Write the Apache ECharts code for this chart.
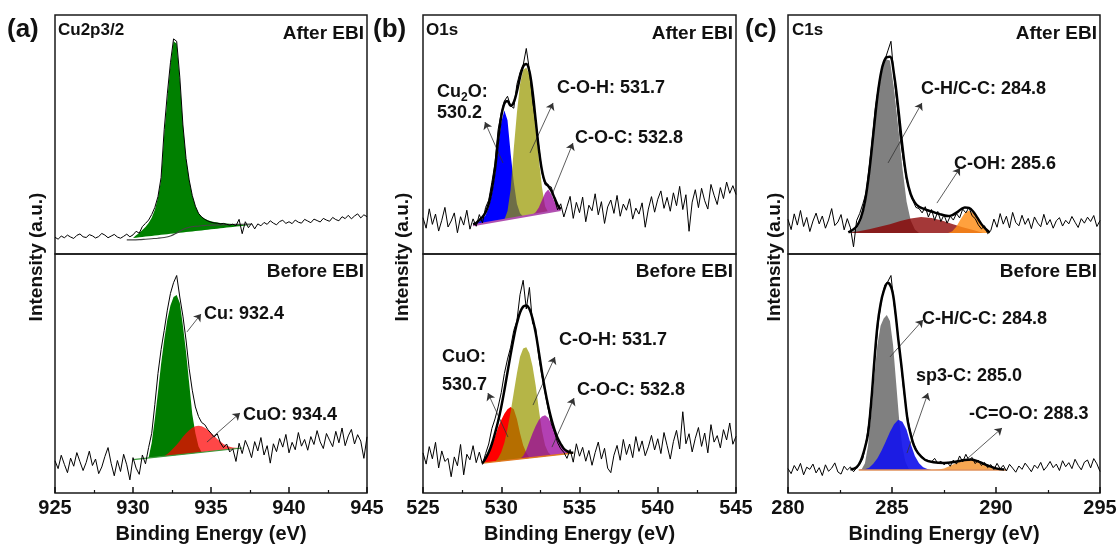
<!DOCTYPE html>
<html><head><meta charset="utf-8">
<script src="https://cdn.jsdelivr.net/npm/echarts/dist/echarts.min.js"></script>
<style>html,body{margin:0;padding:0;background:#fff}#c{width:1120px;height:544px}</style>
</head><body><div id="c"></div><script>
const FONT = "'Liberation Sans', Arial, sans-serif";

// ---------- x ranges / ticks ----------
const rangeA = [925, 945], rangeB = [525, 545], rangeC = [280, 295];
const tickInterval = 5;
const stepAB = 0.2, stepC = 0.15;

// ---------- raw spectra (start at range min) ----------
const cuAfterRaw = [7.0,6.2,7.5,6.8,7.9,7.1,6.5,7.8,8.4,7.2,6.9,8.1,7.6,6.7,7.3,8.6,7.9,6.8,7.5,8.2,7.1,6.6,7.4,8.3,7.2,
 8.0,9.5,8.7,11.5,12.8,14.2,16.5,19.5,24,
 32,52,67,80,90,89,74,54,40,31,24.5,20,17,15.5,14.5,13.8,13.3,
 13.0,12.9,12.6,12.8,12.4,12.1,12.5,11.8,14.5,8.5,13.5,11.0,12.8,10.5,12.6,
 11.8,13.2,12.4,13.9,12.9,12.2,13.6,14.1,12.8,13.5,12.7,14.2,13.3,12.9,14.5,13.8,13.1,14.6,14.0,13.4,14.9,14.2,13.7,15.3,14.4,13.9,15.6,14.8,16.2,14.7,15.9,16.8,15.1,16.4,15.6];
const cuBeforeRaw = [13.5,10.2,15.8,12.0,8.5,14.6,11.2,16.9,13.1,9.4,12.8,17.5,11.5,14.2,8.1,10.9,15.3,19.0,12.4,7.2,13.6,9.0,16.2,11.8,5.5,14.8,10.4,7.8,15.9,12.2,
 19,25,37,50,60,68,76.5,83.5,88,91,82,74,64,52,43,36,32,29.5,28.6,26.5,25,23.4,24.8,21,19,20.5,17.2,
 18.5,13.2,20.8,16.5,22.0,18.9,14.8,21.5,17.6,23.2,15.9,19.8,12.5,20.6,17.3,22.8,19.2,24.5,16.8,21.2,18.1,25.3,19.6,22.4,17.9,23.6,20.3,26.1,21.4,18.6,24.9,22.1,19.4,25.8,21.0,27.2,19.8,23.9,26.6,20.5,24.4,21.7,14.5,23.5];
const oAfterRaw = [15.2,10.8,18.9,12.4,16.7,9.6,14.1,19.5,11.3,13.8,17.2,8.9,15.6,12.1,18.3,10.4,14.7,11.6,
 16.5,13.0,19.5,22.5,30,38,52,59,64,66,62,61,71,76,79,86,77,64,55,45,34,29,28.5,28,23,18.5,21.0,15.5,
 19.8,24.1,14.9,21.6,17.3,23.8,13.5,20.4,18.1,25.2,16.4,21.9,12.8,19.7,22.6,17.0,24.5,15.8,20.9,18.3,23.1,14.6,19.2,16.7,21.4,11.2,18.8,24.0,17.5,22.9,26.4,19.1,23.7,17.9,25.6,20.2,28.3,18.6,24.8,9.5,21.7,26.9,19.4,27.5,22.3,18.8,29.1,24.6,20.7,27.8,23.2,30.1,25.4,28.6,24.9];
const oBeforeRaw = [16.8,12.1,19.4,14.3,21.2,10.5,17.6,13.2,14.5,6.8,15.1,11.4,20.3,7.6,16.2,13.9,19.8,12.7,17.1,
 12.0,16.5,20.5,27,31,36,42,50,56,61,68,72,83,89,77,86,71,69,57,49,42,35,29,25.5,21,18.5,17,14.5,
 18.2,12.9,20.6,15.4,19.1,13.3,17.8,11.6,16.9,21.3,14.2,18.7,10.4,8.5,15.8,19.9,13.7,22.4,16.1,20.5,14.8,23.6,17.4,21.8,15.6,19.3,24.1,18.0,22.7,16.5,25.3,19.8,14.2,21.5,26.2,18.4,34.0,20.6,24.8,17.2,22.9,27.4,19.5,25.1,16.8,28.6,21.3,24.0,18.9,26.5,22.2,29.3,20.4,23.7];
const cAfterRaw = [14.5,10.2,16.8,12.1,18.2,11.5,15.3,9.4,13.8,17.1,12.6,15.9,10.8,14.2,19.0,11.9,13.4,16.5,10.1,14.8,11.0,
 3.0,14,17,21,25.5,36,48,61,70,77,81,85,89,74,62,48,39,31,26,22.5,19.5,19.0,
 17.2,19.8,15.5,18.6,14.1,17.8,13.6,16.4,12.9,15.8,14.2,16.9,15.1,18.8,17.2,19.5,16.0,14.8,12.2,10.5,11.8,8.5,9.8,
 14.6,11.2,16.9,12.5,15.8,10.9,17.4,13.2,11.8,16.2,12.4,14.9,10.6,15.5,13.0,11.4,16.6,12.2,14.4,10.8,13.9,15.2,11.7,14.1,12.6,15.7,13.3,11.1,14.8,12.9,15.4,13.6,16.1,11.5,14.0];
const cBeforeRaw = [10.2,8.1,11.5,9.3,12.4,7.6,10.8,9.9,12.1,8.4,10.6,7.3,11.8,9.1,10.4,12.6,8.8,7.9,11.2,9.6,10.9,8.9,10.5,12.0,
 14.5,21,30,44,59,72,81,87,88.5,91,79,69,57,44,34,27,21.5,18.5,16,
 15.2,14.0,13.6,13.0,14.5,12.4,13.3,11.8,12.9,11.2,13.8,12.1,15.5,13.0,16.2,13.6,14.9,12.3,13.7,11.5,12.8,10.6,11.9,9.8,12.4,10.1,11.6,
 9.2,12.0,10.4,8.7,11.3,9.9,12.5,10.8,8.9,11.7,10.3,12.8,9.5,11.1,13.2,10.6,12.1,9.4,13.5,11.0,12.7,10.2,14.1,11.6,9.7,12.9,13.8,10.5,14.4,12.2,9.0];

// ---------- backgrounds (two end points) ----------
const cuAfterBg = [[930.0, 6.7], [937.6, 12.2]];
const cuBeforeBg = [[930.0, 14.0], [937.0, 18.83]];
const oAfterBg = [[528.2, 12.0], [533.8, 18.44]];
const oBeforeBg = [[528.8, 12.5], [534.6, 16.7]];
const cAfterBg = [[282.9, 8.8], [289.7, 8.8]];
const cBeforeBg = [[283.4, 9.6], [290.5, 9.6]];

// Shirley background line of Cu2p after EBI  [x, y]
const cuAfterShirley = [[929.6,5.9],[930.0,5.9],[930.4,6.0],[930.8,6.2],[931.2,6.4],[931.6,6.6],[932.0,6.9],[932.4,7.5],[932.8,8.8],[933.2,10.3],[933.6,11.2],[934.0,11.6],[934.4,11.8],[934.8,12.0],[935.2,12.1],[935.6,12.2],[936.0,12.3],[936.6,12.4],[937.6,12.5]];

// ---------- fitted components (absolute top edge), uniform steps ----------
const cuAfterCu = {x0:930.0, dx:0.2, y:[6.7,7.8,8.8,10.0,11.3,13.0,15.2,18.5,23.5,31,50,65,79,89,88,73,54,40,31,24.5,20,17.2,15.6,14.7,14.1,13.7,13.4,13.2,13.0,12.9,12.8,12.7,12.6,12.5,12.4,12.3,12.25,12.2,12.2]};
const cuBeforeCu = {x0:930.8, dx:0.2, y:[14.55,14.7,21,31,42,54,64,72.5,78.5,82,82.8,79.5,70,59,46,33,25,19.5,17.0]};
const cuBeforeCuO = {x0:932.0, dx:0.2, y:[15.4,16.3,17.5,18.8,20.2,21.8,23.5,25.0,26.3,27.3,27.9,28.1,27.9,27.3,26.4,25.2,23.9,22.6,21.5,20.5,19.8,19.3,19.0,18.9,18.8,18.8]};

const oAfterCu2O = {x0:528.2, dx:0.2, y:[12.0,12.6,13.6,14.8,16.2,19.5,25,33,45,55,60,56,42,30,21,17.0,15.7]};
const oAfterCOH = {x0:530.2, dx:0.2, y:[14.3,18,27,44,59,71,77,78,75,66,53,40,28,20,17.5]};
const oAfterCOC = {x0:532.0, dx:0.2, y:[16.4,17.5,19.5,22.5,25.5,27,25,22,19.5,18.44]};
const oAfterEnv = {x0:528.2, dx:0.2, y:[12.5,13.0,14.2,15.5,17.5,21,27,35.5,47.5,57.5,63,64,62,63.5,68,74,78.5,79.5,76.5,68,56,44,35,30,28.5,26.5,23.5,20.5,18.8]};

const oBeforeCuO = {x0:528.8, dx:0.2, y:[12.5,14.2,16.3,19.5,23.5,27.5,30.5,33.2,35.0,36.0,35.0,31.0,25.0,20.0,16.8,14.7]};
const oBeforeCOH = {x0:529.6, dx:0.2, y:[13.1,14.5,17,21,27,34,42,50,57,60.5,61,58.5,53,45,35,26,20,17,15.7]};
const oBeforeCOC = {x0:531.2, dx:0.2, y:[14.2,15.5,18,21.5,25,28,30.5,32,32.5,31.5,29,26,23,20.5,18.5,17.3,16.8,16.7]};
const oBeforeEnv = {x0:528.8, dx:0.2, y:[12.5,14.5,17,20.5,25,30,36,43,50.5,58,65,71,75.5,78,78.5,77,73,67,59,50.5,43,36.5,31,26.5,23,20.5,18.5,17.5,17,16.8]};

const cAfterCC = {x0:282.9, dx:0.2, y:[8.8,9.3,10.5,13.5,20,33,49,65,76,81.5,81,69,53,36,22,14,10.3,8.8]};
const cAfterCOH = {x0:282.9, dx:0.5, y:[8.8,9.5,10.4,11.4,12.5,13.8,14.9,15.5,15.1,14.0,12.6,11.2,10.0,8.8]};
const cAfterCOO = {x0:287.7, dx:0.2, y:[8.8,9.5,11.5,14.5,17.2,18.2,17.0,14.5,12.0,10.0,8.8]};
const cAfterEnv = {x0:282.9, dx:0.2, y:[9,10,11.5,15,22,34,50,66,77,82,82.5,75,61,45,32,25,21.5,19.8,19,18.3,17.8,17.2,16.7,16.2,15.9,16.3,17.3,18.6,19.5,19.3,17.8,15.2,12.5,10.5,9.0]};

const cBeforeCC = {x0:283.4, dx:0.15, y:[9.6,10.0,12.5,20,33,49,62,70,73,74.5,72,62,46,30,19,13,10.3,9.6]};
const cBeforeSp3 = {x0:283.5, dx:0.2, y:[9.6,9.9,10.6,12.2,14.5,17.8,21.5,25.5,28.8,30.7,29.8,26.5,20.5,15.5,12.5,10.8,10.0,9.6]};
const cBeforeCOO = {x0:287.0, dx:0.25, y:[9.6,9.8,10.3,11.2,12.2,13.2,14.0,14.2,13.8,12.8,11.6,10.6,10.0,9.7,9.6]};
const cBeforeEnv = [[283.0,9.8],[283.3,10.8],[283.5,13.5],[283.7,19],[283.85,25],[284.0,38],[284.15,55],[284.3,70],[284.45,79],[284.6,84.5],[284.8,88],[285.0,85],[285.15,76.5],[285.3,64.5],[285.45,53.5],[285.6,41.5],[285.75,30.5],[285.9,24.5],[286.05,20],[286.25,16.7],[286.6,13.8],[287.0,12.9],[287.5,12.6],[288.0,13.0],[288.5,13.8],[288.8,14.0],[289.2,13.0],[289.6,11.5],[290.0,10.3],[290.4,9.8]];

// ---------- annotation arrows (data coords: from -> to) ----------
const arrowsA1 = [[[933.46,67.4],[934.36,74.9]], [[934.74,21.3],[936.86,33.5]]];
const arrowsB0 = [[[530.11,38.1],[528.96,55.2]], [[531.84,42.3],[533.31,63.2]], [[533.24,24.7],[534.58,46.4]]];
const arrowsB1 = [[[530.43,23.4],[529.15,41.8]], [[532.03,36.8],[533.43,56.9]], [[533.24,19.2],[534.65,39.7]]];
const arrowsC0 = [[[284.81,38.1],[286.44,63.2]], [[287.16,21.3],[288.27,36.0]]];
const arrowsC1 = [[[284.9,56.9],[286.49,72.4]], [[285.72,16.7],[286.73,41.8]], [[288.65,14.6],[290.29,27.2]]];

// ---------- helpers ----------
function seq(x0, dx, ys){ return ys.map((y,i)=>[+(x0+i*dx).toFixed(3), y]); }
function bgAt(bg, x){ const a=bg[0], b=bg[1]; return a[1] + (b[1]-a[1])*(x-a[0])/(b[0]-a[0]); }

const series = [];
// filled component between its top edge and the straight background, drawn through the axes' scales
function comp(g, c, bg, color){
  const top = seq(c.x0, c.dx, c.y);
  const base = top.map(p => [p[0], bgAt(bg, p[0])]).reverse();
  const ring = top.concat(base);
  series.push({type:'custom', coordinateSystem:'cartesian2d', xAxisIndex:g, yAxisIndex:g, silent:true, z:2, clip:true,
    data:[0],
    renderItem: (params, api) => ({type:'polygon',
      shape:{points: ring.map(p => api.coord(p))},
      style:{fill:color, stroke:null}})});
}
function line(g, data, color, width, smooth, z){
  series.push({type:'line', xAxisIndex:g, yAxisIndex:g, symbol:'none', silent:true, z:z, smooth:smooth||false,
    lineStyle:{color:color, width:width}, data:data});
}
function raw(g, x0, dx, ys, arrows){
  const s = {type:'line', xAxisIndex:g, yAxisIndex:g, symbol:'none', silent:true, z:4,
    lineStyle:{color:'#000', width:1}, data: seq(x0, dx, ys)};
  if (arrows) s.markLine = {silent:true, symbol:['none','arrow'], symbolSize:7, label:{show:false},
    lineStyle:{color:'#333', width:0.8, type:'solid'}, animation:false,
    data: arrows.map(a => [{coord:a[0]}, {coord:a[1]}])};
  series.push(s);
}

// (a) Cu2p3/2
comp(0, cuAfterCu, cuAfterBg, 'rgba(0,128,0,1)');
line(0, cuAfterShirley, '#444', 1.1, 0.3, 3);
raw(0, rangeA[0], stepAB, cuAfterRaw);
comp(1, cuBeforeCu, cuBeforeBg, 'rgba(0,125,0,1)');
comp(1, cuBeforeCuO, cuBeforeBg, 'rgba(255,0,0,0.72)');
line(1, cuBeforeBg, '#3a9a3a', 1.2, false, 3);
raw(1, rangeA[0], stepAB, cuBeforeRaw, arrowsA1);
// (b) O1s
comp(2, oAfterCu2O, oAfterBg, 'rgba(0,0,255,1)');
comp(2, oAfterCOH, oAfterBg, 'rgba(153,153,0,0.72)');
comp(2, oAfterCOC, oAfterBg, 'rgba(153,0,153,0.75)');
line(2, oAfterBg, '#b050b0', 2, false, 3);
raw(2, rangeB[0], stepAB, oAfterRaw, arrowsB0);
line(2, seq(oAfterEnv.x0, oAfterEnv.dx, oAfterEnv.y), '#000', 2.5, 0.35, 5);
comp(3, oBeforeCuO, oBeforeBg, 'rgba(255,0,0,1)');
comp(3, oBeforeCOH, oBeforeBg, 'rgba(153,153,0,0.72)');
comp(3, oBeforeCOC, oBeforeBg, 'rgba(153,0,153,0.75)');
line(3, oBeforeBg, '#e07a20', 1.5, false, 3);
raw(3, rangeB[0], stepAB, oBeforeRaw, arrowsB1);
line(3, seq(oBeforeEnv.x0, oBeforeEnv.dx, oBeforeEnv.y), '#000', 2.5, 0.35, 5);
// (c) C1s
comp(4, cAfterCC, cAfterBg, 'rgba(128,128,128,1)');
comp(4, cAfterCOH, cAfterBg, 'rgba(139,0,0,0.78)');
comp(4, cAfterCOO, cAfterBg, 'rgba(255,140,20,0.82)');
raw(4, rangeC[0], stepC, cAfterRaw, arrowsC0);
line(4, seq(cAfterEnv.x0, cAfterEnv.dx, cAfterEnv.y), '#000', 2.5, 0.35, 5);
comp(5, cBeforeCC, cBeforeBg, 'rgba(128,128,128,1)');
comp(5, cBeforeSp3, cBeforeBg, 'rgba(20,20,235,0.92)');
comp(5, cBeforeCOO, cBeforeBg, 'rgba(245,150,50,0.85)');
line(5, cBeforeBg, '#e0905a', 1.5, false, 3);
raw(5, rangeC[0], stepC, cBeforeRaw, arrowsC1);
line(5, cBeforeEnv, '#000', 2.5, 0.35, 5);

// ---------- layout ----------
const cols = [{left:55, width:312, r:rangeA}, {left:423, width:313, r:rangeB}, {left:788, width:312, r:rangeC}];
const grids = [], xAxes = [], yAxes = [];
cols.forEach(c => {
  [[15,239,false],[254,239,true]].forEach(([top,h,bottom]) => {
    grids.push({left:c.left, width:c.width, top:top, height:h, show:true, borderColor:'#1a1a1a', borderWidth:1.5, containLabel:false});
    xAxes.push({type:'value', gridIndex:grids.length-1, min:c.r[0], max:c.r[1], interval:tickInterval,
      axisLine:{show:false}, splitLine:{show:false},
      axisTick:{show:bottom, inside:true, length:6, lineStyle:{color:'#111', width:1.5}},
      minorTick:{show:bottom, splitNumber:2, length:3, lineStyle:{color:'#111', width:1.2}},
      axisLabel:{show:bottom, margin:5, fontFamily:FONT, fontWeight:'bold', fontSize:20, color:'#111'}});
    yAxes.push({type:'value', gridIndex:grids.length-1, min:0, max:100, show:false, splitLine:{show:false}});
  });
});

function T(text, x, y, size, align, extra){
  return Object.assign({type:'text', x:x, y:y, z:100, silent:true, style:{text:text, fill:'#111',
    font:'bold '+size+'px '+FONT, textAlign:align||'left', textVerticalAlign:'middle'}}, extra||{});
}
const sub = (base) => ({type:'text', x:base[0], y:base[1], z:100, silent:true, style:{
  text:'{a|Cu}{s|2}{a|O:}', textAlign:'left', textVerticalAlign:'middle',
  rich:{a:{font:'bold 18px '+FONT, fill:'#111', lineHeight:22, verticalAlign:'bottom'},
        s:{font:'bold 12px '+FONT, fill:'#111', lineHeight:22, verticalAlign:'bottom', padding:[0,0,-3,0]}}}});
const graphics = [
  T('(a)', 7, 30, 26), T('(b)', 373, 30, 26), T('(c)', 745, 30, 26),
  T('Cu2p3/2', 58, 30, 17), T('O1s', 426, 30, 17), T('C1s', 792, 30, 17),
  T('After EBI', 364, 34, 19, 'right'), T('After EBI', 733, 34, 19, 'right'), T('After EBI', 1097, 34, 19, 'right'),
  T('Before EBI', 364, 272, 19, 'right'), T('Before EBI', 733, 272, 19, 'right'), T('Before EBI', 1097, 272, 19, 'right'),
  T('Cu: 932.4', 204, 314, 18), T('CuO: 934.4', 243, 415, 18),
  sub([437, 90]), T('530.2', 437, 113, 18),
  T('C-O-H: 531.7', 557, 88, 18), T('C-O-C: 532.8', 575, 138, 18),
  T('CuO:', 442, 357, 18), T('530.7', 442, 385, 18),
  T('C-O-H: 531.7', 559, 340, 18), T('C-O-C: 532.8', 577, 390, 18),
  T('C-H/C-C: 284.8', 921, 89, 18), T('C-OH: 285.6', 954, 164, 18),
  T('C-H/C-C: 284.8', 922, 319, 18), T('sp3-C: 285.0', 916, 376, 18), T('-C=O-O: 288.3', 969, 414, 18),
  T('Binding Energy (eV)', 211, 534, 20, 'center'), T('Binding Energy (eV)', 579.5, 534, 20, 'center'), T('Binding Energy (eV)', 944, 534, 20, 'center'),
  T('Intensity (a.u.)', 36.5, 257, 19, 'center', {rotation:Math.PI/2}),
  T('Intensity (a.u.)', 403, 257, 19, 'center', {rotation:Math.PI/2}),
  T('Intensity (a.u.)', 775, 257, 19, 'center', {rotation:Math.PI/2})
];

const chart = echarts.init(document.getElementById('c'), null, {renderer:'canvas'});
chart.setOption({animation:false, backgroundColor:'#fff', grid:grids, xAxis:xAxes, yAxis:yAxes, series:series, graphic:graphics});
</script></body></html>
